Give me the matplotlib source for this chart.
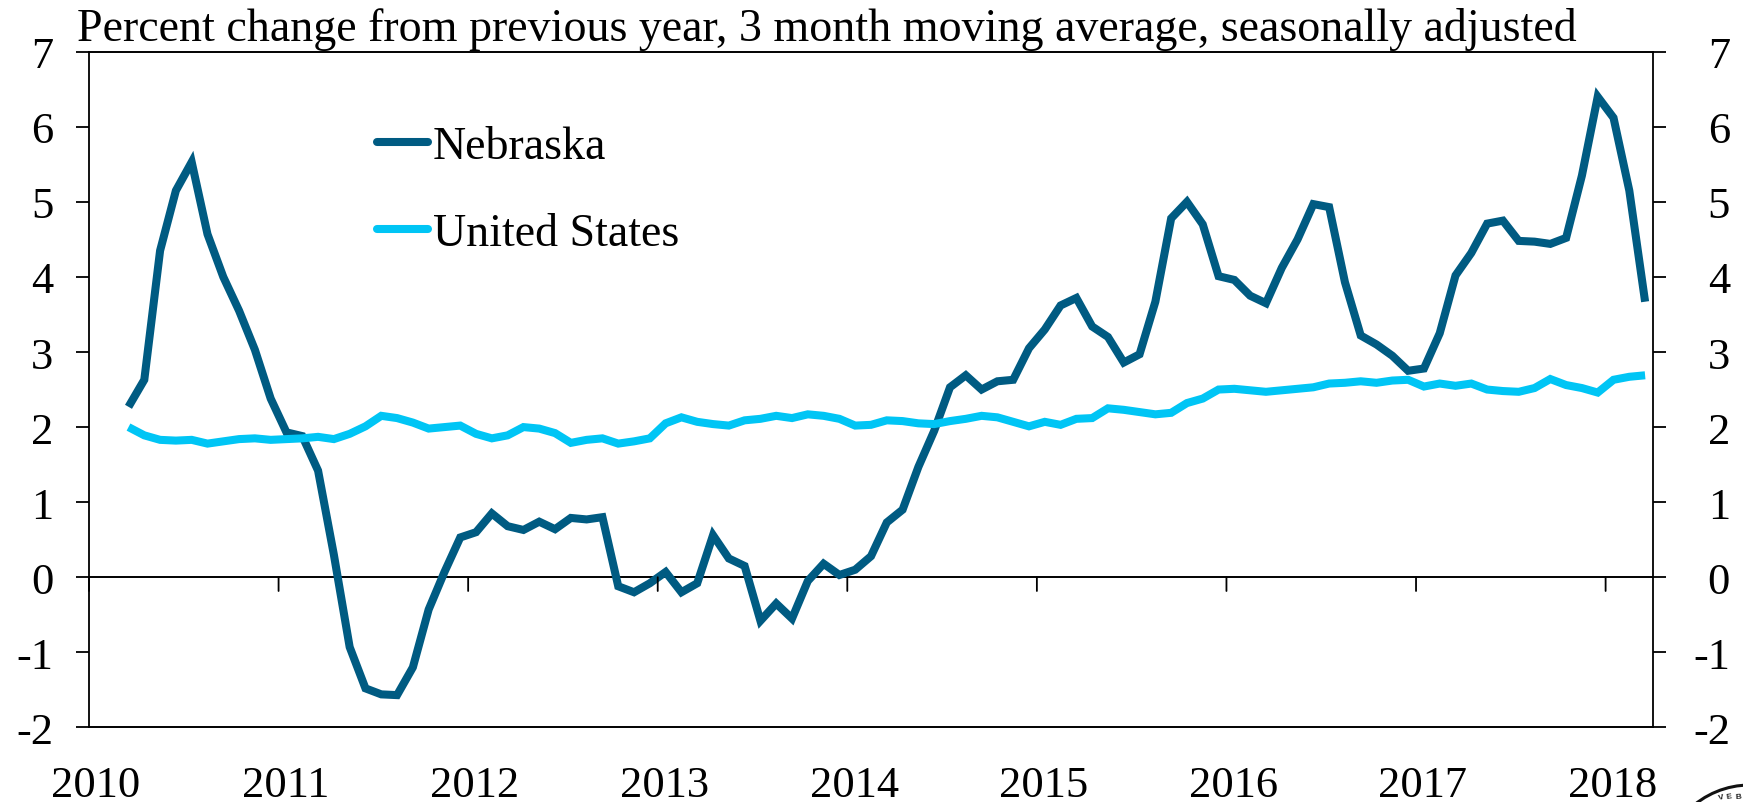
import numpy as np
import matplotlib
matplotlib.use("Agg")
import matplotlib.pyplot as plt
from matplotlib.patches import Circle
from matplotlib.transforms import IdentityTransform

plt.rcParams['font.family'] = ['Liberation Serif', 'DejaVu Serif']
plt.rcParams['axes.unicode_minus'] = False

nebraska = [2.27, 2.63, 4.35, 5.15, 5.53, 4.57, 4.0, 3.55, 3.03, 2.38,
            1.93, 1.88, 1.42, 0.3, -0.93, -1.48, -1.56, -1.57, -1.2, -0.43, 0.07, 0.53,
            0.6, 0.85, 0.68, 0.63, 0.74, 0.64, 0.79, 0.77, 0.8, -0.12, -0.2, -0.08,
            0.07, -0.2, -0.08, 0.56, 0.25, 0.15, -0.58, -0.35, -0.55, -0.05, 0.18, 0.03,
            0.1, 0.28, 0.73, 0.9, 1.47, 1.95, 2.53, 2.69, 2.5, 2.61, 2.63, 3.05,
            3.3, 3.62, 3.72, 3.34, 3.2, 2.86, 2.97, 3.67, 4.78, 5.0, 4.7, 4.01,
            3.96, 3.75, 3.65, 4.12, 4.5, 4.97, 4.93, 3.93, 3.22, 3.1, 2.95, 2.75,
            2.78, 3.25, 4.02, 4.32, 4.71, 4.75, 4.48, 4.47, 4.44, 4.52, 5.35, 6.4,
            6.12, 5.15, 3.67]
united_states = [2.0, 1.89, 1.83, 1.82, 1.83, 1.78, 1.81, 1.84, 1.85, 1.83,
                 1.84, 1.85, 1.87, 1.84, 1.91, 2.01, 2.15, 2.12, 2.06, 1.98, 2.0, 2.02,
                 1.91, 1.85, 1.89, 2.0, 1.98, 1.92, 1.79, 1.83, 1.85, 1.78, 1.81, 1.85,
                 2.05, 2.13, 2.07, 2.04, 2.02, 2.09, 2.11, 2.15, 2.12, 2.17, 2.15, 2.11,
                 2.02, 2.03, 2.09, 2.08, 2.05, 2.04, 2.08, 2.11, 2.15, 2.13, 2.07, 2.01,
                 2.07, 2.03, 2.11, 2.12, 2.25, 2.23, 2.2, 2.17, 2.19, 2.32, 2.38, 2.5,
                 2.51, 2.49, 2.47, 2.49, 2.51, 2.53, 2.58, 2.59, 2.61, 2.59, 2.62, 2.63,
                 2.54, 2.58, 2.55, 2.58, 2.5, 2.48, 2.47, 2.52, 2.64, 2.56, 2.52, 2.46,
                 2.63, 2.67, 2.69]
first_month = 2.5      # March 2010, centred in its monthly slot
years = [2010, 2011, 2012, 2013, 2014, 2015, 2016, 2017, 2018]
y_ticks = [-2, -1, 0, 1, 2, 3, 4, 5, 6, 7]
title = "Percent change from previous year, 3 month moving average, seasonally adjusted"

W, H = 1743, 803
fig = plt.figure(figsize=(W/100, H/100), dpi=100)
L, R, T, B = 89, 1653, 52.7, 728.4
ax = fig.add_axes([L/W, 1-B/H, (R-L)/W, (B-T)/H])
months = first_month + np.arange(len(nebraska))
DARK, LIGHT = '#005b82', '#00c5f5'
LW = 5.8
ax.plot(months, nebraska, color=DARK, lw=LW, solid_joinstyle='miter', solid_capstyle='butt', zorder=3, label='Nebraska')
ax.plot(months, united_states, color=LIGHT, lw=LW, solid_joinstyle='miter', solid_capstyle='butt', zorder=3, label='United States')
ax.set_xlim(0, 99)
ax.set_ylim(-2, 7)

for s in ax.spines.values():
    s.set_linewidth(1.3); s.set_color('black')
ax.spines['bottom'].set_visible(False)
ax.spines['top'].set_visible(False)
TL = 9.4
ax.set_yticks(y_ticks)
ax.tick_params(axis='y', which='both', left=True, right=True, labelleft=True, labelright=False,
               direction='out', length=TL, width=1.3, labelsize=32, pad=16.4)
ax.set_xticks([])
for v in y_ticks:
    ax.annotate(str(v), xy=(1, v), xycoords=('axes fraction', 'data'), xytext=(55.5, 0),
                textcoords='offset points', ha='right', va='center_baseline', fontsize=32)
for v in (-2, 0, 7):
    ax.axhline(v, color='black', lw=1.4, zorder=2, clip_on=False)
for i, yr in enumerate(years):
    xm = i*12
    ax.annotate('', xy=(xm, 0), xytext=(0, -TL-0.5), xycoords='data', textcoords='offset points',
                arrowprops=dict(arrowstyle='-', lw=1.3, color='black', shrinkA=0, shrinkB=0))
    ax.annotate(str(yr), xy=(xm, -2), xytext=(5, -27), xycoords='data', textcoords='offset points',
                ha='center', va='top', fontsize=32, clip_on=False)

fig.text(77/W, 1-41/H, title, fontsize=33.1, ha='left', va='baseline')

for label, c, ypx in [('Nebraska', DARK, 143), ('United States', LIGHT, 230)]:
    fig.add_artist(plt.Line2D([377/W, 428/W], [1-ypx/H]*2, color=c, lw=LW, solid_capstyle='round'))
    fig.text(433/W, 1-ypx/H, label, fontsize=33, va='center_baseline', ha='left')

# seal fragment at the lower right corner (pixel coordinates, y measured from the top)
cx, cy, rad = 1750, 874, 88
fig.add_artist(Circle((cx, H-cy), rad, transform=IdentityTransform(), fc='white', ec='#111111', lw=2.2))
for ch, px, py, rot in [('V', 1721, 797.5, 14), ('E', 1729, 797, 9), ('B', 1738, 797, 4)]:
    fig.text(px/W, 1-py/H, ch, fontsize=6, fontweight='bold', family=['Liberation Sans', 'DejaVu Sans'],
             rotation=rot, ha='center', va='center', color='#222222')

fig.savefig('out.png', dpi=100)
